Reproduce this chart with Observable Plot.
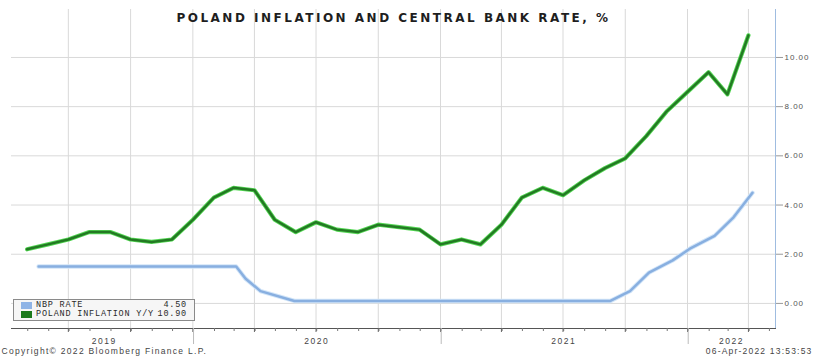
<!DOCTYPE html>
<html>
<head>
<meta charset="utf-8">
<script src="https://cdn.jsdelivr.net/npm/d3@7"></script>
<script src="https://cdn.jsdelivr.net/npm/@observablehq/plot@0.6"></script>
<style>
  body { margin: 0; background: #fff; }
  #chart { position: relative; width: 816px; height: 356px; overflow: hidden; background: #fff; }
  #legend {
    position: absolute; left: 13px; top: 299px; width: 182px; height: 22px;
    border: 1px solid #8a8a8a; background: #f6f6f6;
    font-family: "Liberation Mono", "DejaVu Sans Mono", monospace; font-size: 8.5px; letter-spacing: 0.8px; color: #2a2a2a;
    box-sizing: border-box;
  }
  #legend .row { position: absolute; left: 0; right: 0; height: 9px; line-height: 9px; }
  #legend .sw { position: absolute; left: 7px; top: 1px; width: 11px; height: 7px; }
  #legend .lab { position: absolute; left: 22px; top: 0; white-space: pre; }
  #legend .val { position: absolute; right: 7px; top: 0; white-space: pre; }
</style>
</head>
<body>
<div id="chart"></div>
<script>
// ---- data ----
const titleText = "POLAND INFLATION AND CENTRAL BANK RATE, %";
const copyrightText = "Copyright\u00A9 2022 Bloomberg Finance L.P.";
const stampText = "06-Apr-2022 13:53:53";

// Poland CPI y/y, monthly (plotted at month end)
const inflationDates = [
  "2019-04-30","2019-05-31","2019-06-30","2019-07-31","2019-08-31","2019-09-30",
  "2019-10-31","2019-11-30","2019-12-31","2020-01-31","2020-02-29","2020-03-31",
  "2020-04-30","2020-05-31","2020-06-30","2020-07-31","2020-08-31","2020-09-30",
  "2020-10-31","2020-11-30","2020-12-31","2021-01-31","2021-02-28","2021-03-31",
  "2021-04-30","2021-05-31","2021-06-30","2021-07-31","2021-08-31","2021-09-30",
  "2021-10-31","2021-11-30","2021-12-31","2022-01-31","2022-02-28","2022-03-31"
];
const inflationValues = [
  2.2, 2.4, 2.6, 2.9, 2.9, 2.6,
  2.5, 2.6, 3.4, 4.3, 4.7, 4.6,
  3.4, 2.9, 3.3, 3.0, 2.9, 3.2,
  3.1, 3.0, 2.4, 2.6, 2.4, 3.2,
  4.3, 4.7, 4.4, 5.0, 5.5, 5.9,
  6.8, 7.8, 8.6, 9.4, 8.5, 10.9
];

// NBP reference rate
const nbpDates = [
  "2019-05-17","2020-03-04","2020-03-18","2020-04-09","2020-05-29",
  "2021-09-08","2021-10-07","2021-11-04","2021-12-09","2022-01-05",
  "2022-02-09","2022-03-09","2022-04-06"
];
const nbpValues = [1.5, 1.5, 1.0, 0.5, 0.1, 0.1, 0.5, 1.25, 1.75, 2.25, 2.75, 3.5, 4.5];

const seriesNames = ["NBP RATE", "POLAND INFLATION Y/Y"];
const seriesLast = ["4.50", "10.90"];
const seriesColors = ["#88afe0", "#237a23"];
const swatchColors = ["#8fb4e6", "#1c7a1c"];

// axis
const xDomain = ["2019-04-07", "2022-05-10"];
const yDomain = [-1.02, 11.95];
const yTicks = [0, 2, 4, 6, 8, 10];
const quarterEnds = [
  "2019-06-30","2019-09-30","2019-12-31","2020-03-31","2020-06-30","2020-09-30",
  "2020-12-31","2021-03-31","2021-06-30","2021-09-30","2021-12-31","2022-03-31"
];
const yearBoundaries = ["2020-01-01", "2021-01-01", "2022-01-01"];
const yearLabelDates = ["2019-08-22", "2020-07-01", "2021-07-01", "2022-03-06"];

// ---- build ----
const P = s => new Date(s + "T00:00:00Z");
const infl = inflationDates.map((d, i) => ({date: P(d), value: inflationValues[i]}));
const nbp = nbpDates.map((d, i) => ({date: P(d), value: nbpValues[i]}));

const chart = Plot.plot({
  width: 816,
  height: 356,
  marginLeft: 11,
  marginRight: 41,
  marginTop: 9,
  marginBottom: 28,
  style: {fontFamily: "'Liberation Sans', Arial, sans-serif", fontSize: "8px", background: "#fff", color: "#444"},
  x: {type: "utc", domain: xDomain.map(P)},
  y: {domain: yDomain},
  marks: [
    // grid
    Plot.ruleY(yTicks, {stroke: "#d9d9d9", strokeWidth: 1}),
    Plot.ruleX(quarterEnds.map(P), {stroke: "#d9d9d9", strokeWidth: 1}),
    // title
    Plot.text([titleText], {frameAnchor: "top", dy: 9, lineAnchor: "middle", fontSize: 12, fontWeight: "bold",
      fontFamily: "'DejaVu Sans', sans-serif", fill: "#1e1e1e"}),
    // lines: halo + core
    Plot.line(nbp, {x: "date", y: "value", stroke: "#d2e5f8", strokeWidth: 4.4}),
    Plot.line(nbp, {x: "date", y: "value", stroke: seriesColors[0], strokeWidth: 2.5}),
    Plot.line(infl, {x: "date", y: "value", stroke: "#55d855", strokeWidth: 4.2}),
    Plot.line(infl, {x: "date", y: "value", stroke: seriesColors[1], strokeWidth: 2.5}),
    // frame pieces
    Plot.frame({anchor: "right", stroke: "#9fbce0"}),
    Plot.frame({anchor: "bottom", stroke: "#555"}),
    // right y axis
    Plot.axisY(yTicks, {anchor: "right", tickSize: 7, tickPadding: 2, tickFormat: d => d.toFixed(2),
      fontSize: 8, fill: "#555", stroke: "#999", label: null}),
    // minor month ticks on axis
    Plot.axisX({ticks: d3.utcMonth, tickSize: 3, tickFormat: () => "", stroke: "#777", label: null}),
    Plot.axisX(quarterEnds.map(P), {tickSize: 4, tickFormat: () => "", stroke: "#666", label: null}),
    Plot.axisX(yearBoundaries.map(P), {tickSize: 16, tickFormat: () => "", stroke: "#bbb", label: null}),
    // year labels
    Plot.axisX(yearLabelDates.map(P), {tickSize: 0, tickPadding: 9, tickFormat: d => String(d.getUTCFullYear()),
      fontSize: 8.5, fill: "#444", label: null}),
    // footer
    Plot.text([copyrightText], {frameAnchor: "bottom-left", dx: -10, dy: 23, textAnchor: "start", lineAnchor: "middle",
      fontSize: 8.5, fill: "#444"}),
    Plot.text([stampText], {frameAnchor: "bottom-right", dx: 37, dy: 23, textAnchor: "end", lineAnchor: "middle",
      fontSize: 8.5, fill: "#444"})
  ]
});

const host = document.getElementById("chart");
host.appendChild(chart);

// letter spacing (Bloomberg-style wide lettering)
const spacingByText = new Map([[titleText, "2.5px"], [copyrightText, "1.3px"], [stampText, "1.2px"]]);
d3.select(chart).selectAll("text").each(function() {
  const t = this.textContent;
  if (spacingByText.has(t)) this.style.letterSpacing = spacingByText.get(t);
  else if (/^\d{4}$/.test(t)) this.style.letterSpacing = "1.5px";
  else if (/^\d+\.\d\d$/.test(t)) this.style.letterSpacing = "1px";
});

// legend (inside plot area, bottom-left)
const legend = document.createElement("div");
legend.id = "legend";
seriesNames.forEach((name, i) => {
  const row = document.createElement("div");
  row.className = "row";
  row.style.top = (i === 0 ? 1 : 10) + "px";
  row.innerHTML = `<span class="sw" style="background:${swatchColors[i]}"></span>` +
    `<span class="lab">${name}</span><span class="val">${seriesLast[i]}</span>`;
  legend.appendChild(row);
});
host.appendChild(legend);
</script>
</body>
</html>
